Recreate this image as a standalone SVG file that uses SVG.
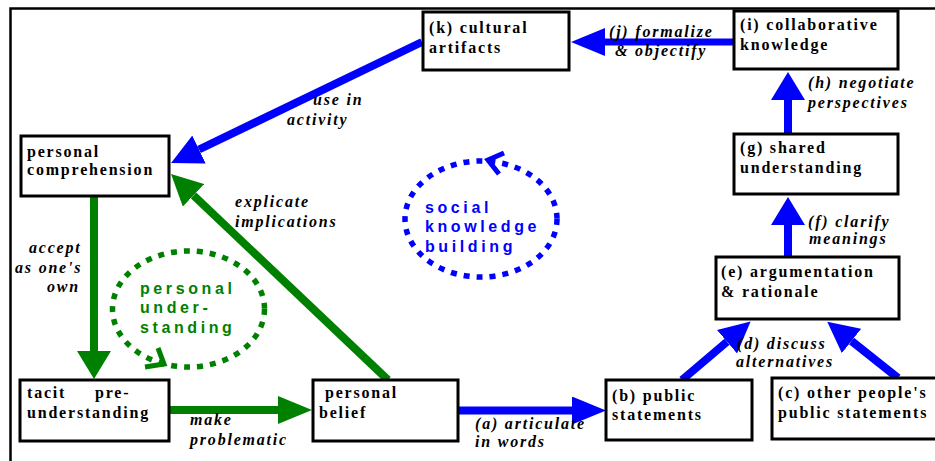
<svg xmlns="http://www.w3.org/2000/svg" width="935" height="461" viewBox="0 0 935 461">
  <style>
    .box { fill: #fff; stroke: #000; stroke-width: 3; }
    .nt { font-family: "Liberation Serif", "Times New Roman", serif; font-weight: bold; font-size: 16px; letter-spacing: 1.8px; fill: #000; }
    .lb { font-family: "Liberation Serif", "Times New Roman", serif; font-weight: bold; font-style: italic; font-size: 16px; letter-spacing: 1.8px; fill: #000; }
    .cyc { font-family: "Liberation Sans", Arial, sans-serif; font-weight: bold; font-size: 16px; letter-spacing: 3.6px; }
    .blue { stroke: #0000ff; fill: none; }
    .green { stroke: #008000; fill: none; }
    .ln { stroke-width: 8; }
    .dot { stroke-width: 5.5; stroke-dasharray: 6 7; }
  </style>
  <defs>
    <!-- arrowheads: horizontal, vertical and diagonal proportions -->
    <marker id="bh" markerUnits="userSpaceOnUse" viewBox="0 0 34 28" refX="0" refY="14" markerWidth="34" markerHeight="28" orient="auto"><path d="M0,0 L34,14 L0,28 z" fill="#0000ff"/></marker>
    <marker id="bv" markerUnits="userSpaceOnUse" viewBox="0 0 28 34" refX="0" refY="17" markerWidth="28" markerHeight="34" orient="auto"><path d="M0,0 L28,17 L0,34 z" fill="#0000ff"/></marker>
    <marker id="bd" markerUnits="userSpaceOnUse" viewBox="0 0 31 31" refX="0" refY="15.5" markerWidth="31" markerHeight="31" orient="auto"><path d="M0,0 L31,15.5 L0,31 z" fill="#0000ff"/></marker>
    <marker id="gh" markerUnits="userSpaceOnUse" viewBox="0 0 34 28" refX="0" refY="14" markerWidth="34" markerHeight="28" orient="auto"><path d="M0,0 L34,14 L0,28 z" fill="#008000"/></marker>
    <marker id="gv" markerUnits="userSpaceOnUse" viewBox="0 0 28 34" refX="0" refY="17" markerWidth="28" markerHeight="34" orient="auto"><path d="M0,0 L28,17 L0,34 z" fill="#008000"/></marker>
    <marker id="gd" markerUnits="userSpaceOnUse" viewBox="0 0 31 31" refX="0" refY="15.5" markerWidth="31" markerHeight="31" orient="auto"><path d="M0,0 L31,15.5 L0,31 z" fill="#008000"/></marker>
  </defs>

  <rect width="935" height="461" fill="#fff"/>
  <!-- frame (open at right and bottom) -->
  <path d="M10.5,461 L10.5,8.5 L935,8.5" fill="none" stroke="#000" stroke-width="2.5"/>

  <!-- cycles -->
  <g id="cycle-social">
    <ellipse class="blue dot" cx="481" cy="219" rx="76" ry="58"/>
    <polyline class="blue" stroke-width="5" points="504,153 488,160 499,174"/>
    <text class="cyc" fill="#0000ff"><tspan x="425" y="213">social</tspan><tspan x="425" y="232">knowledge</tspan><tspan x="425" y="252">building</tspan></text>
  </g>
  <g id="cycle-personal">
    <ellipse class="green dot" cx="188.5" cy="309" rx="76" ry="58"/>
    <polyline class="green" stroke-width="5" points="158,348 164,364 145,367"/>
    <text class="cyc" fill="#008000"><tspan x="140" y="294">personal</tspan><tspan x="140" y="313">under-</tspan><tspan x="140" y="333">standing</tspan></text>
  </g>

  <!-- connectors -->
  <g id="connectors">
    <path class="blue ln" d="M422,42 L199,149.5" marker-end="url(#bd)"/>
    <path class="blue" stroke-width="7" d="M735,42 L605,42" marker-end="url(#bh)"/>
    <path class="blue ln" d="M788,134 L788,100" marker-end="url(#bv)"/>
    <path class="blue ln" d="M788,257 L788,225" marker-end="url(#bv)"/>
    <path class="blue ln" d="M682,380 L727,341.7" marker-end="url(#bd)"/>
    <path class="blue ln" d="M898,378 L851.5,341" marker-end="url(#bd)"/>
    <path class="blue ln" d="M458,410.5 L572,410.5" marker-end="url(#bh)"/>
    <path class="green ln" d="M169,410 L278,410" marker-end="url(#gh)"/>
    <path class="green ln" d="M94,196 L94,351" marker-end="url(#gv)"/>
    <path class="green ln" d="M388,380 L193.5,195.3" marker-end="url(#gd)"/>
  </g>

  <!-- nodes -->
  <g id="node-k"><rect class="box" x="423" y="12" width="146" height="58"/><text class="nt"><tspan x="429" y="33">(k) cultural</tspan><tspan x="429" y="53">artifacts</tspan></text></g>
  <g id="node-i"><rect class="box" x="734" y="11" width="164" height="58"/><text class="nt"><tspan x="740" y="30">(i) collaborative</tspan><tspan x="740" y="50">knowledge</tspan></text></g>
  <g id="node-g"><rect class="box" x="734" y="134" width="164" height="60"/><text class="nt"><tspan x="740" y="153">(g) shared</tspan><tspan x="740" y="173">understanding</tspan></text></g>
  <g id="node-e"><rect class="box" x="716" y="257" width="183" height="62"/><text class="nt"><tspan x="721" y="277">(e) argumentation</tspan><tspan x="721" y="297">&amp; rationale</tspan></text></g>
  <g id="node-b"><rect class="box" x="606" y="380" width="146" height="60"/><text class="nt"><tspan x="612" y="401">(b) public</tspan><tspan x="612" y="420">statements</tspan></text></g>
  <g id="node-c"><rect class="box" x="772" y="378" width="170" height="61"/><text class="nt"><tspan x="778" y="398">(c) other people's</tspan><tspan x="778" y="418">public statements</tspan></text></g>
  <g id="node-comprehension"><rect class="box" x="21" y="136" width="148" height="60"/><text class="nt"><tspan x="27" y="157">personal</tspan><tspan x="27" y="175">comprehension</tspan></text></g>
  <g id="node-tacit"><rect class="box" x="20" y="380" width="149" height="61"/><text class="nt"><tspan x="27" y="398">tacit</tspan><tspan x="95" y="398">pre-</tspan><tspan x="27" y="418">understanding</tspan></text></g>
  <g id="node-belief"><rect class="box" x="313" y="380" width="145" height="61"/><text class="nt"><tspan x="325" y="398">personal</tspan><tspan x="319" y="418">belief</tspan></text></g>

  <!-- connector labels -->
  <g id="labels">
    <text class="lb"><tspan x="313" y="105">use in</tspan><tspan x="287" y="125">activity</tspan></text>
    <text class="lb"><tspan x="609" y="37">(j) formalize</tspan><tspan x="615" y="56">&amp; objectify</tspan></text>
    <text class="lb"><tspan x="808" y="88">(h)  negotiate</tspan><tspan x="808" y="108">perspectives</tspan></text>
    <text class="lb"><tspan x="808" y="227">(f) clarify</tspan><tspan x="809" y="244">meanings</tspan></text>
    <text class="lb"><tspan x="737" y="349">(d) discuss</tspan><tspan x="736" y="367">alternatives</tspan></text>
    <text class="lb"><tspan x="475" y="429">(a) articulate</tspan><tspan x="475" y="447">in words</tspan></text>
    <text class="lb"><tspan x="190" y="425">make</tspan><tspan x="190" y="445">problematic</tspan></text>
    <text class="lb"><tspan x="29" y="253">accept</tspan><tspan x="15" y="273">as one's</tspan><tspan x="47" y="292">own</tspan></text>
    <text class="lb"><tspan x="235" y="207">explicate</tspan><tspan x="235" y="227">implications</tspan></text>
  </g>
</svg>
